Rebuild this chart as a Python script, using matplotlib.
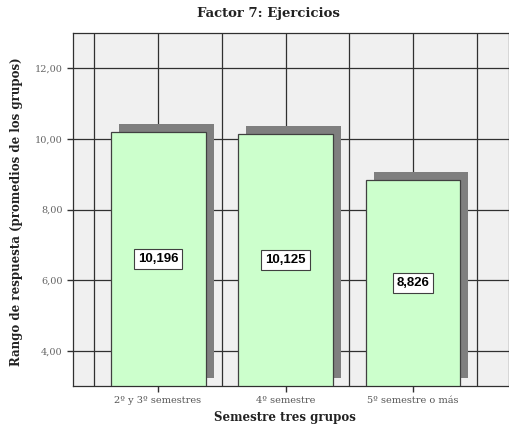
import matplotlib
matplotlib.use("Agg")
import matplotlib.pyplot as plt
import numpy as np

categories = ["2º y 3º semestres", "4º semestre", "5º semestre o más"]
values = [10.196, 10.125, 8.826]
value_labels = ["10,196", "10,125", "8,826"]
yticks = [4, 6, 8, 10, 12]
ytick_labels = ["4,00", "6,00", "8,00", "10,00", "12,00"]

W, H = 510, 428
fig = plt.figure(figsize=(W/100, H/100), dpi=100)
ax = fig.add_axes([73/W, 1-386/H, (509-73)/W, (386-33)/H])
ax.set_facecolor("#f0f0f0")

ymin, ymax = 3.0, 13.0
xmin, xmax = -0.667, 2.753
ax.set_xlim(xmin, xmax)
ax.set_ylim(ymin, ymax)

# grid
for gx in np.arange(-0.5, 2.51, 0.5):
    ax.axvline(gx, color="#303030", lw=0.9, zorder=0.5)
for gy in yticks:
    ax.axhline(gy, color="#303030", lw=0.9, zorder=0.5)

x = np.arange(len(categories))
bw = 0.745
dx = 8/127.5
dy = 8/35.25
# shadows
ax.bar(x + dx, np.array(values) - ymin, bottom=ymin + dy, width=bw,
       color="#7f7f7f", edgecolor="none", zorder=2)
ax.bar(x, np.array(values) - ymin, bottom=ymin, width=bw,
       color="#ccffcc", edgecolor="#404040", lw=0.9, zorder=3)

for xi, v, lab in zip(x, values, value_labels):
    ax.text(xi, (v + ymin)/2, lab, ha="center", va="center", fontsize=9.5,
            fontweight="bold", family="Liberation Sans", zorder=4,
            bbox=dict(boxstyle="square,pad=0.3", fc="white", ec="#404040", lw=0.8))

ax.set_xticks(x)
ax.set_xticklabels(categories, family="DejaVu Serif", fontsize=7, color="#555555")
ax.set_yticks(yticks)
ax.set_yticklabels(ytick_labels, family="DejaVu Serif", fontsize=7, color="#666666")
ax.tick_params(axis="both", direction="out", length=4, width=1, color="#303030")
ax.tick_params(axis="x", pad=3)

for s in ax.spines.values():
    s.set_color("#303030")
    s.set_linewidth(0.9)

fig.text(268/W, 1-14/H, "Factor 7: Ejercicios", ha="center", va="center",
         family="DejaVu Serif", fontweight="bold", fontsize=9.5, color="#222222")
fig.text(285/W, 1-418/H, "Semestre tres grupos", ha="center", va="center",
         family="DejaVu Serif", fontweight="bold", fontsize=8.5, color="#222222")
fig.text(17/W, 1-212/H, "Rango de respuesta (promedios de los grupos)", ha="center",
         va="center", rotation=90, family="DejaVu Serif", fontweight="bold",
         fontsize=8.5, color="#222222")

fig.savefig("out.png", dpi=100)
